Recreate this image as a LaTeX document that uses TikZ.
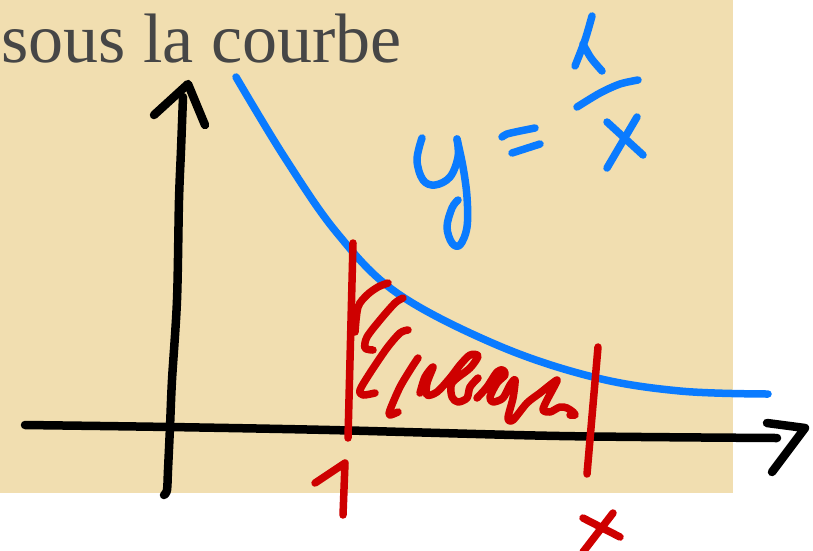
\documentclass[tikz,border=0pt]{standalone}
\usepackage{fontspec}
\newfontfamily\titlefont{Liberation Serif}
\begin{document}
\begin{tikzpicture}[x=1pt,y=-1pt,
  pen/.style={line cap=round,line join=round},
  blk/.style={pen,draw=black,line width=8.5pt},
  blu/.style={pen,draw=penblue,line width=7.5pt},
  rd/.style={pen,draw=penred,line width=7.5pt}]
\definecolor{paper}{RGB}{241,222,176}
\definecolor{penblue}{RGB}{10,123,255}
\definecolor{penred}{RGB}{206,0,0}
\definecolor{ink}{RGB}{70,70,70}
\useasboundingbox (0,0) rectangle (813,550);
\fill[paper] (0,0) rectangle (733,493);
% title
\node[anchor=base west,inner sep=0pt,text=ink,font=\titlefont\fontsize{70}{76}\selectfont] (title) at (1,62) {sous la courbe};
% axes
\draw[blk] plot[smooth,tension=0.5] coordinates {(25,425) (170,427) (330,430) (560,436) (777,438)};
\draw[blk] (767,423) -- (805,428) -- (772,472);
\draw[blk] plot[smooth,tension=0.5] coordinates {(183,97) (181,150) (179,200) (177,300) (172,380) (170,427) (168,470) (167,490) (164,495)};
\draw[blk] (154,115) -- (188,84) -- (205,125);
% curve y=1/x
\draw[blu] plot[smooth,tension=0.6] coordinates {(236,77) (285,158) (337,233) (397,293) (497,345) (593,377) (680,391) (768,394)};
% y = 1/x
\draw[blu] plot[smooth,tension=0.6] coordinates {(422,138) (417,160) (423,180) (435,185) (450,177) (458,157) (457,139)};
\draw[blu] plot[smooth,tension=0.6] coordinates {(457,139) (463,167) (467,197) (467,227) (460,245) (452,243) (447,227) (452,208) (458,200)};
\draw[blu] plot[smooth,tension=0.5] coordinates {(502,137) (507,134) (520,131) (535,128)};
\draw[blu] (512,153) -- (540,144);
\draw[blu] plot[smooth,tension=0.5] coordinates {(592,16) (585,40) (575,66)};
\draw[blu] plot[smooth,tension=0.5] coordinates {(583,44) (591,58) (602,71)};
\draw[blu] plot[smooth,tension=0.5] coordinates {(577,107) (600,93) (620,84) (638,80)};
\draw[blu] (607,122) -- (643,155);
\draw[blu] (637,117) -- (607,168);
% red marks
\draw[rd] (353,243) -- (348,438);
\draw[rd] (598,347) -- (587,474);
\draw[rd] (315,483) -- (345,463) -- (343,515);
\draw[rd] (583,518) -- (620,537);
\draw[rd] (613,513) -- (583,552);
% hatching
\draw[rd] plot[smooth,tension=0.5] coordinates {(355,332) (358,307) (367,295) (378,287) (388,283)};
\draw[rd] plot[smooth,tension=0.5] coordinates {(403,298) (395,303) (380,320) (367,337) (365,348) (373,350)};
\draw[rd] plot[smooth,tension=0.5] coordinates {(408,330) (400,333) (387,348) (370,373) (360,390) (363,395) (375,393)};
\draw[rd] plot[smooth,tension=0.5] coordinates {(418,358) (412,367) (400,387) (390,410) (390,415) (398,412)};
\draw[rd] plot[smooth,tension=0.5] coordinates {(420,393) (425,377) (433,367) (427,383) (427,395) (437,392) (450,378) (460,365) (470,355) (478,356) (470,368) (452,383) (452,397) (458,402) (467,398) (470,387) (478,378)};
\draw[rd] plot[smooth,tension=0.5] coordinates {(477,398) (487,387) (497,372) (503,370) (505,375) (497,383) (490,397) (493,402) (503,398) (510,385) (515,380) (513,398) (508,418) (513,420) (527,403) (540,393) (550,385) (557,380) (555,385) (547,400) (543,410) (550,412) (560,407) (567,408) (573,412) (575,415) (570,415)};
\end{tikzpicture}
\end{document}
